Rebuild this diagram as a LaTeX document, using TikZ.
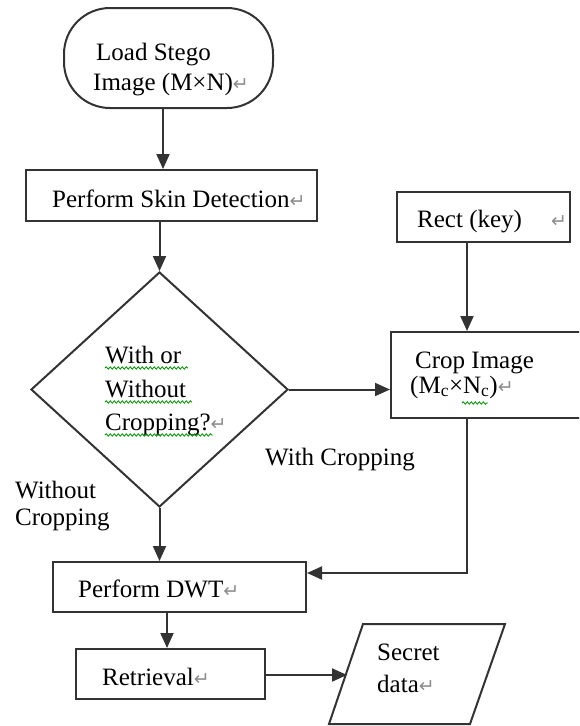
\documentclass[tikz,border=0pt]{standalone}
\usepackage{fontspec}
\setmainfont{Liberation Serif}
\newfontfamily\symfont{DejaVu Sans}
\usetikzlibrary{shapes.geometric,arrows.meta,decorations.pathmorphing}
\newcommand{\pmark}{{\symfont\fontsize{19}{19}\selectfont\color{black!45}↵}}
\begin{document}
\begin{tikzpicture}[x=1pt,y=-1pt,
  ln/.style={line width=2pt, draw=black!80},
  arr/.style={ln, -{Triangle[length=15pt,width=13pt]}},
  box/.style={ln, rectangle, inner sep=0pt},
  txt/.style={anchor=base west, inner sep=0pt, font=\fontsize{25}{30}\selectfont},
  squig/.style={draw=green!55!black, line width=0.8pt, decorate, decoration={snake, amplitude=1.2pt, segment length=4pt}}]
\useasboundingbox (0,0) rectangle (579,726);
\clip (0,0) rectangle (579,726);
% shapes
\node[ln, rectangle, rounded corners=46pt, minimum width=209pt, minimum height=100pt] (load) at (168.5,58) {};
\node[box, minimum width=291pt, minimum height=51pt] (skin) at (171.5,195.5) {};
\node[ln, diamond, inner sep=0pt, minimum width=257pt, minimum height=235pt] (dia) at (159.5,389.5) {};
\node[box, minimum width=173pt, minimum height=50pt] (key) at (483.5,217) {};
\node[box, minimum width=199pt, minimum height=86pt] (crop) at (490.5,375) {};
\node[box, minimum width=253pt, minimum height=50pt] (dwt) at (179.5,587) {};
\node[box, minimum width=189pt, minimum height=50pt] (ret) at (170.5,674) {};
\coordinate (p1) at (329,724);
\coordinate (p2) at (363,624);
\coordinate (p3) at (505,624);
\coordinate (p4) at (470,724);
\draw[ln, line join=miter] (p1) -- (p2) -- (p3) -- (p4) -- cycle;
\coordinate (sd) at (347,675);
% texts
\node[txt] (t1) at (96,60) {Load Stego};
\node[txt] (t2) at (93,90) {Image (M×N)\pmark};
\node[txt] (t3) at (52,207) {Perform Skin Detection\pmark};
\node[txt] (t4) at (417,227) {Rect (key)};
\node[txt] (t4b) at (551,227) {\pmark};
\node[txt] (t5) at (415,368) {Crop Image};
\node[txt] (t6) at (410,393) {(M\textsubscript{c}×N\textsubscript{c})\pmark};
\node[txt] (t7) at (105,363) {With or};
\node[txt] (t8) at (105,397) {Without};
\node[txt] (t9) at (105,430) {Cropping?\pmark};
\node[txt] (t10) at (265,465) {With Cropping};
\node[txt] (t11) at (15,498) {Without};
\node[txt] (t12) at (15,525) {Cropping};
\node[txt] (t13) at (78,597) {Perform DWT\pmark};
\node[txt] (t14) at (102,685) {Retrieval\pmark};
\node[txt] (t15) at (377,660) {Secret};
\node[txt] (t16) at (377,692) {data\pmark};
% spell-check squiggles
\draw[squig] (105,368) -- (188,368);
\draw[squig] (105,402) -- (192,402);
\draw[squig] (105,435) -- (213,435);
\draw[squig] (462,403) -- (488,403);
% connectors
\coordinate (c1) at (163,0);
\coordinate (kx) at (467,0);
\coordinate (jn) at (467,573);
\coordinate (ax) at (167,0);
\draw[arr] (load.south -| c1) -- (skin.north -| c1);
\draw[arr] (skin.south -| dia.north) -- (dia.north);
\draw[arr] (dia.east) -- (dia.east -| crop.west);
\draw[arr] (key.south -| kx) -- (crop.north -| kx);
\draw[arr] (dia.south) -- (dia.south |- dwt.north);
\draw[arr] (crop.south -| jn) -- (jn) -- (jn -| dwt.east);
\draw[arr] (dwt.south -| ax) -- (ret.north -| ax);
\draw[arr] (ret.east |- sd) -- (sd);
\end{tikzpicture}
\end{document}
